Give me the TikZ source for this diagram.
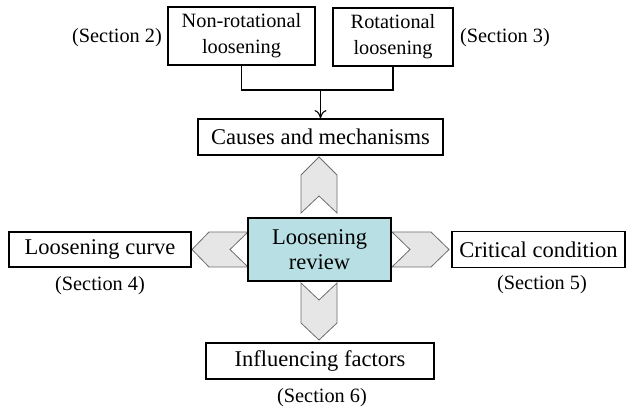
\documentclass[tikz,border=0pt]{standalone}
\usepackage{fontspec}
\setmainfont{Liberation Serif}
\usepackage{tikz}
\usetikzlibrary{arrows,arrows.meta}
\definecolor{reviewblue}{HTML}{B8E0E4}
\definecolor{chevgray}{HTML}{E6E6E6}
\definecolor{chevline}{HTML}{6E6E6E}
\tikzstyle{arrow} = [line width=1.1pt, -{To[length=8pt,width=12pt]}]
\tikzstyle{box} = [draw, line width=1.8pt, inner sep=0pt, align=center,
  font=\fontsize{22.5}{25}\selectfont]
\tikzstyle{smallbox} = [box, font=\fontsize{20.3}{26}\selectfont]
\tikzstyle{section} = [inner sep=0pt, font=\fontsize{20.3}{24}\selectfont]
\tikzstyle{edge} = [line width=1.1pt]
\tikzstyle{chevron} = [draw=chevline, fill=chevgray, line width=0.8pt,
  line join=miter]

\begin{document}
\begin{tikzpicture}[x=1pt,y=-1pt]
    \useasboundingbox (0,0) rectangle (627,411);
    % chevrons round the review box
    \draw[chevron] (301,213) -- (301,175) -- (319,157) -- (337,175)
        -- (337,213) -- (319,196) -- cycle;
    \draw[chevron] (301,283) -- (319,300) -- (337,283) -- (337,323)
        -- (319,340) -- (301,323) -- cycle;
    \draw[chevron] (248,232) -- (209,232) -- (192,249.5) -- (209,267)
        -- (248,267) -- (230,249.5) -- cycle;
    \draw[chevron] (392,232) -- (431,232) -- (449,249.5) -- (431,267)
        -- (392,267) -- (410,249.5) -- cycle;
    % top row
    \node[smallbox,minimum width=147pt,minimum height=58pt] (nonrot) at (241.5,36)
        {Non-rotational\\loosening};
    \node[smallbox,minimum width=120pt,minimum height=58pt] (rot) at (393,37)
        {Rotational\\loosening};
    \node[section] (sec2) at (117,38) {(Section 2)};
    \node[section] (sec3) at (505,38) {(Section 3)};
    % centre and the four topics
    \node[box,minimum width=245pt,minimum height=36pt] (causes) at (320.5,137)
        {Causes and mechanisms};
    \node[box,fill=reviewblue,minimum width=143pt,minimum height=63pt] (review)
        at (319.5,249.5) {Loosening\\review};
    \node[box,minimum width=182pt,minimum height=35pt] (curve) at (100,249.5)
        {Loosening curve};
    \node[box,minimum width=173pt,minimum height=36pt] (critical) at (538.5,249.5)
        {Critical condition};
    \node[box,minimum width=228pt,minimum height=36pt] (factors) at (320,361)
        {Influencing factors};
    \node[section] (sec4) at (100,286) {(Section 4)};
    \node[section] (sec5) at (542,285) {(Section 5)};
    \node[section] (sec6) at (322,398) {(Section 6)};
    % join of the two kinds of loosening
    \coordinate (join) at (320.5,90);
    \draw[edge] (nonrot.south) |- (join) -| (rot.south);
    \draw[arrow] (join) -- (causes.north);
\end{tikzpicture}
\end{document}
